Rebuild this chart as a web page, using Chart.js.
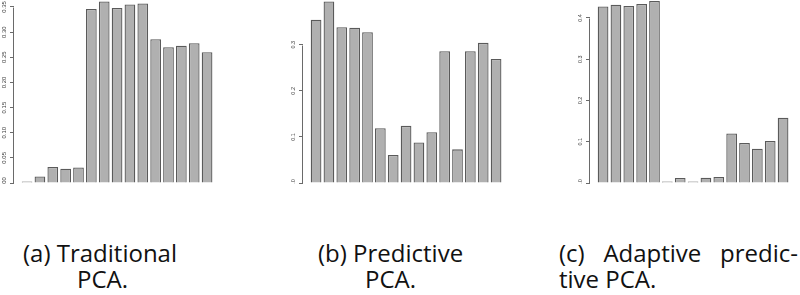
<!DOCTYPE html>
<html>
<head>
<meta charset="utf-8">
<script src="https://cdn.jsdelivr.net/npm/chart.js@4"></script>
<style>
  body { margin: 0; background: #fff; width: 800px; height: 295px; overflow: hidden; position: relative; }
  canvas { position: absolute; top: 0; }
  .cap { position: absolute; font-family: "Open Sans", sans-serif; font-size: 24px; line-height: 26px; color: #111; white-space: nowrap; }
  .just { text-align: justify; text-align-last: justify; white-space: normal; }
</style>
</head>
<body>
<canvas id="chartA" width="222" height="184" style="left:0px"></canvas>
<canvas id="chartB" width="222" height="184" style="left:289px"></canvas>
<canvas id="chartC" width="222" height="184" style="left:576px"></canvas>

<div class="cap" style="left:23px; top:240px">(a) Traditional</div>
<div class="cap" style="left:77px; top:266px">PCA.</div>
<div class="cap" style="left:318px; top:240px">(b) Predictive</div>
<div class="cap" style="left:365px; top:266px">PCA.</div>
<div class="cap just" style="left:559px; top:240px; width:239px">(c) Adaptive predic-</div>
<div class="cap" style="left:559px; top:266px">tive PCA.</div>

<script>
// principal components 1..15
const components = [1, 2, 3, 4, 5, 6, 7, 8, 9, 10, 11, 12, 13, 14, 15];

const traditional = [0.003, 0.013, 0.032, 0.0285, 0.031, 0.346, 0.361, 0.348, 0.355, 0.357, 0.286, 0.270, 0.273, 0.278, 0.260];
const predictive = [0.354, 0.394, 0.338, 0.337, 0.327, 0.119, 0.061, 0.124, 0.088, 0.110, 0.286, 0.073, 0.286, 0.304, 0.269];
const adaptive = [0.428, 0.432, 0.429, 0.434, 0.441, 0.002, 0.012, 0.002, 0.013, 0.0145, 0.120, 0.097, 0.083, 0.102, 0.158];

const ticksA = [0, 0.05, 0.10, 0.15, 0.20, 0.25, 0.30, 0.35];
const tickLabelsA = ['0.00', '0.05', '0.10', '0.15', '0.20', '0.25', '0.30', '0.35'];
const ticksB = [0, 0.1, 0.2, 0.3];
const tickLabelsB = ['0.0', '0.1', '0.2', '0.3'];
const ticksC = [0, 0.1, 0.2, 0.3, 0.4];
const tickLabelsC = ['0.0', '0.1', '0.2', '0.3', '0.4'];

// R style axis: line only spans first to last tick, labels rotated
const rAxis = {
  id: 'rAxis',
  afterDraw(chart) {
    const s = chart.scales.y;
    const opts = chart.options.plugins.rAxis;
    const ctx = chart.ctx;
    const x0 = s.right - 0.5;
    ctx.save();
    ctx.strokeStyle = '#6a6a6a';
    ctx.lineWidth = 1;
    ctx.beginPath();
    ctx.moveTo(x0, Math.round(s.getPixelForValue(opts.values[0])) + 0.5);
    ctx.lineTo(x0, Math.round(s.getPixelForValue(opts.values[opts.values.length - 1])) + 0.5);
    ctx.stroke();
    ctx.fillStyle = '#3c3c3c';
    ctx.font = opts.fontSize + 'px "Liberation Sans", Arial, sans-serif';
    ctx.textAlign = 'center';
    ctx.textBaseline = 'middle';
    opts.values.forEach((v, i) => {
      ctx.save();
      ctx.translate(s.right - 9.5, s.getPixelForValue(v));
      ctx.rotate(-Math.PI / 2);
      ctx.fillText(opts.labels[i], 0, 0);
      ctx.restore();
    });
    ctx.restore();
  }
};

function makeChart(id, values, tickVals, tickLabels, yMax, fontSize) {
  return new Chart(document.getElementById(id), {
    type: 'bar',
    data: {
      datasets: [{
        data: components.map((c, i) => ({ x: c, y: values[i] })),
        backgroundColor: '#b0b0b0',
        borderColor: '#5a5a5a',
        borderWidth: 1.3,
        minBarLength: 1.5,
        categoryPercentage: 1,
        barPercentage: 1 / 1.2
      }]
    },
    options: {
      responsive: false,
      animation: false,
      layout: { padding: { top: 0, bottom: 1, left: 0, right: 0 } },
      plugins: {
        legend: { display: false },
        tooltip: { enabled: false },
        rAxis: { values: tickVals, labels: tickLabels, fontSize: fontSize }
      },
      scales: {
        x: { type: 'linear', min: -0.0167, max: 16.161, offset: false, display: false },
        y: {
          min: 0,
          max: yMax,
          afterFit: s => { s.width = 14; },
          afterBuildTicks: s => { s.ticks = tickVals.map(v => ({ value: v })); },
          ticks: { display: false },
          grid: { drawOnChartArea: false, drawTicks: true, tickLength: 4, color: '#6a6a6a' },
          border: { display: false }
        }
      }
    },
    plugins: [rAxis]
  });
}

makeChart('chartA', traditional, ticksA, tickLabelsA, 0.3639, 6);
makeChart('chartB', predictive, ticksB, tickLabelsB, 0.397, 5.5);
makeChart('chartC', adaptive, ticksC, tickLabelsC, 0.4436, 5.5);
</script>
</body>
</html>
